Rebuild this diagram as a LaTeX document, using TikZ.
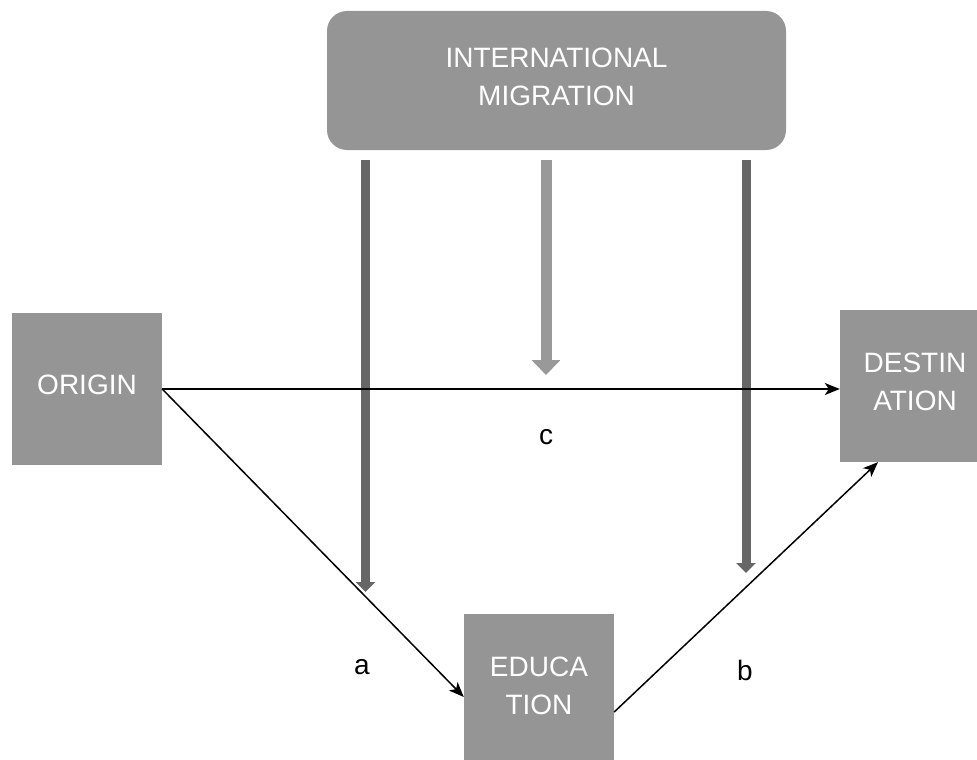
\documentclass[tikz,border=0pt]{standalone}
\usepackage{fontspec}
\setmainfont{Liberation Sans}
\usetikzlibrary{arrows.meta}
\definecolor{boxgray}{HTML}{959595}
\definecolor{darkarrow}{HTML}{666666}
\definecolor{lightarrow}{HTML}{999999}
\tikzset{
  graybox/.style={fill=boxgray, draw=none, text=white, inner sep=0pt, align=center,
    minimum width=150pt, minimum height=152pt, text depth=8pt, font=\fontsize{28}{38}\selectfont},
  topbox/.style={graybox, rounded corners=20pt, minimum width=459pt, minimum height=139pt},
  conn/.style={draw=black, line width=1.5pt, -{Stealth[length=15pt,width=12pt,inset=4pt]}},
  thickdark/.style={draw=darkarrow, line width=9pt, -{Triangle[length=10pt,width=19pt]}},
  thicklight/.style={draw=lightarrow, line width=11pt, -{Triangle[length=15pt,width=28pt]}},
  lbl/.style={font=\fontsize{28}{34}\selectfont, inner sep=0pt}
}
\begin{document}
\begin{tikzpicture}[x=1pt,y=-1pt]
\useasboundingbox (0,0) rectangle (977,760);
\node[topbox] (mig) at (556.5,80.5) {INTERNATIONAL\\MIGRATION};
\node[graybox] (orig) at (87,389) {ORIGIN};
\node[graybox] (dest) at (915,386) {DESTIN\\ATION};
\node[graybox] (educ) at (539,690) {EDUCA\\TION};
\coordinate (s1) at (365.5,160);
\coordinate (e1) at (365.5,592);
\coordinate (s2) at (546,160);
\coordinate (e2) at (546,375);
\coordinate (s3) at (746,160);
\coordinate (e3) at (746,573);
\draw[thickdark] (s1) -- (e1);
\draw[thicklight] (s2) -- (e2);
\draw[thickdark] (s3) -- (e3);
\draw[conn] (orig.east) -- (orig.east -| dest.west);
\draw[conn] (orig.east) -- ([yshift=-7pt]educ.west);
\draw[conn] ([yshift=-22pt]educ.east) -- ([xshift=-37pt]dest.south);
\node[lbl] (la) at (362,667) {a};
\node[lbl] (lb) at (745,670) {b};
\node[lbl] (lc) at (546,437) {c};
\end{tikzpicture}
\end{document}
